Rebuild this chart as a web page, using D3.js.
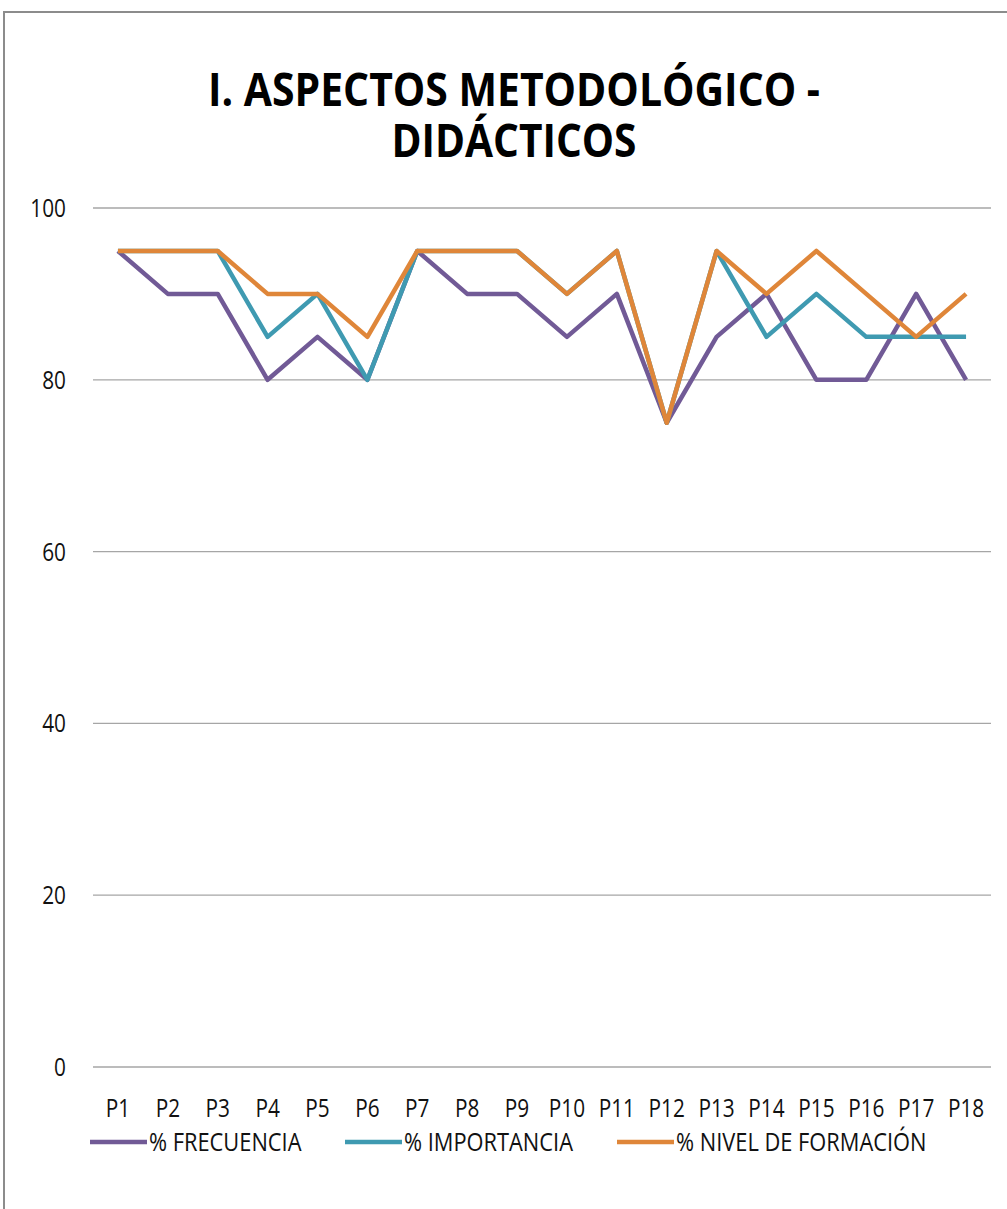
<!DOCTYPE html>
<html>
<head>
<meta charset="utf-8">
<script src="https://cdn.jsdelivr.net/npm/d3@7"></script>
<style>
  body { margin: 0; background: #fff; }
  svg text { font-family: "Open Sans", "Liberation Sans", sans-serif; }
</style>
</head>
<body>
<div id="chart"></div>
<script>
// chart data
const categories = ["P1", "P2", "P3", "P4", "P5", "P6", "P7", "P8", "P9", "P10", "P11", "P12", "P13", "P14", "P15", "P16", "P17", "P18"];
const frecuencia = [95, 90, 90, 80, 85, 80, 95, 90, 90, 85, 90, 75, 85, 90, 80, 80, 90, 80];
const importancia = [95, 95, 95, 85, 90, 80, 95, 95, 95, 90, 95, 75, 95, 85, 90, 85, 85, 85];
const nivelFormacion = [95, 95, 95, 90, 90, 85, 95, 95, 95, 90, 95, 75, 95, 90, 95, 90, 85, 90];
const yTicks = [0, 20, 40, 60, 80, 100];

const series = [
  { name: "% FRECUENCIA", values: frecuencia, color: "#715a96" },
  { name: "% IMPORTANCIA", values: importancia, color: "#3f9ab1" },
  { name: "% NIVEL DE FORMACIÓN", values: nivelFormacion, color: "#df8639" }
];

const W = 1007, H = 1209;
const squeeze = 0.8; // narrow the font a bit, like the original Calibri
const svg = d3.select("#chart").append("svg").attr("width", W).attr("height", H);

// outer frame
svg.append("rect")
  .attr("x", 4).attr("y", 12)
  .attr("width", W + 10).attr("height", H + 10)
  .attr("fill", "none").attr("stroke", "#8c8c8c").attr("stroke-width", 2);

// title (two lines in one text element)
const title = svg.append("text")
  .attr("text-anchor", "middle")
  .attr("font-weight", "bold").attr("font-size", 47);
title.append("tspan")
  .attr("x", 514).attr("y", 106)
  .attr("textLength", 612).attr("lengthAdjust", "spacingAndGlyphs")
  .text("I. ASPECTOS METODOLÓGICO -");
title.append("tspan")
  .attr("x", 514).attr("y", 157)
  .attr("textLength", 245).attr("lengthAdjust", "spacingAndGlyphs")
  .text("DIDÁCTICOS");

const x = d3.scaleBand().domain(categories).range([93, 991]);
const y = d3.scaleLinear().domain([0, 100]).range([1067, 208]);

// gridlines
svg.append("g").selectAll("line").data(yTicks).join("line")
  .attr("x1", 93).attr("x2", 991)
  .attr("y1", d => y(d)).attr("y2", d => y(d))
  .attr("stroke", "#a6a6a6").attr("stroke-width", 1.3);

// y axis labels
svg.append("g").selectAll("text").data(yTicks).join("text")
  .attr("transform", d => `translate(66,${y(d) + 9}) scale(${squeeze},1)`)
  .attr("text-anchor", "end")
  .attr("font-size", 26)
  .attr("fill", "#111")
  .text(d => d);

// x axis labels
svg.append("g").selectAll("text").data(categories).join("text")
  .attr("transform", d => `translate(${x(d) + x.bandwidth() / 2},1117) scale(${squeeze},1)`)
  .attr("text-anchor", "middle")
  .attr("font-size", 26)
  .attr("fill", "#111")
  .text(d => d);

// lines
const line = d3.line()
  .x((d, i) => x(categories[i]) + x.bandwidth() / 2)
  .y(d => y(d));

svg.append("g").selectAll("path").data(series).join("path")
  .attr("d", d => line(d.values))
  .attr("fill", "none")
  .attr("stroke", d => d.color)
  .attr("stroke-width", 4.5)
  .attr("stroke-linejoin", "round");

// legend
const legendX = [90, 345, 617];
const leg = svg.append("g").selectAll("g").data(series).join("g")
  .attr("transform", (d, i) => `translate(${legendX[i]},1142)`);
leg.append("line")
  .attr("x1", 0).attr("x2", 57)
  .attr("stroke", d => d.color).attr("stroke-width", 4.5);
leg.append("text")
  .attr("transform", `translate(59,9) scale(0.84,1)`)
  .attr("font-size", 26)
  .attr("fill", "#111")
  .text(d => d.name);
</script>
</body>
</html>
